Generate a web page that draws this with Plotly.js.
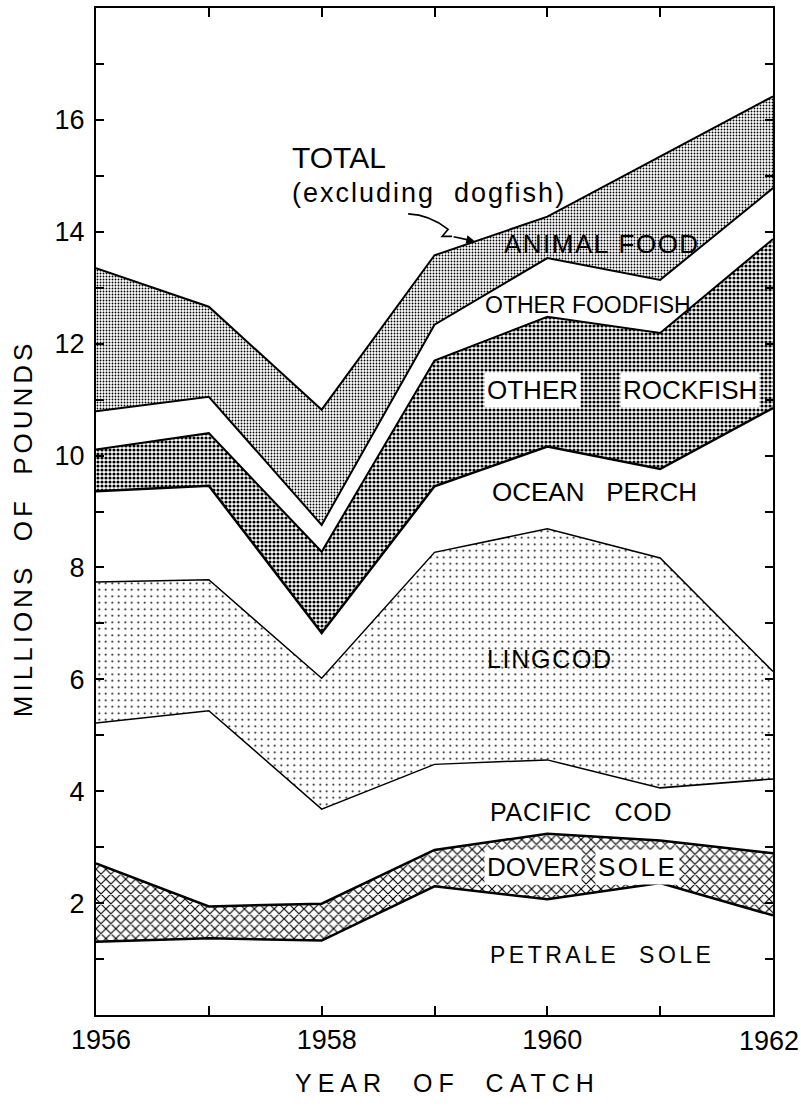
<!DOCTYPE html>
<html>
<head>
<meta charset="utf-8">
<script src="https://cdn.plot.ly/plotly-3.0.1.min.js"></script>
<style>
  html, body { margin: 0; padding: 0; background: #fff; }
</style>
</head>
<body>
<div id="chart" style="width:801px;height:1113px"></div>
<script>
// Landings by species group, millions of pounds, stacked from the bottom up
const years         = [1956, 1957, 1958, 1959, 1960, 1961, 1962];
const petraleSole   = [1.31, 1.37, 1.33, 2.30, 2.07, 2.36, 1.78];
const doverSole     = [1.40, 0.57, 0.66, 0.65, 1.17, 0.76, 1.11];
const pacificCod    = [2.51, 3.50, 1.69, 1.53, 1.32, 0.94, 1.33];
const lingcod       = [2.52, 2.34, 2.34, 3.79, 4.13, 4.11, 1.92];
const oceanPerch    = [1.62, 1.68, 0.81, 1.18, 1.47, 1.59, 4.71];
const otherRockfish = [0.75, 0.94, 1.45, 2.25, 2.32, 2.43, 3.02];
const otherFoodfish = [0.68, 0.65, 0.48, 0.64, 1.05, 0.95, 0.91];
const animalFood    = [2.56, 1.61, 2.06, 1.24, 0.74, 2.21, 1.64];

const NB = '\u00a0';
const xTickVals = [1956, 1957, 1958, 1959, 1960, 1961, 1962];
// the last year is written as a right-aligned note so it stays inside the page
const xTickText = ['1956', '', '1958', '', '1960', '', ''];
const lastYearText = '1962';
const yTickVals = [1, 2, 3, 4, 5, 6, 7, 8, 9, 10, 11, 12, 13, 14, 15, 16, 17];
const yTickText = ['', '2', '', '4', '', '6', '', '8', '', '10', '', '12', '', '14', '', '16', ''];

const FONT = 'Liberation Sans, Arial, Helvetica, sans-serif';

function band(name, values, lineWidth, pattern) {
  const t = {
    type: 'scatter',
    mode: 'lines',
    name: name,
    x: years,
    y: values,
    stackgroup: 'catch',
    line: { color: '#000', width: lineWidth, shape: 'linear' },
    fillcolor: '#ffffff',
    hoverinfo: 'skip'
  };
  if (pattern) {
    t.fillpattern = Object.assign({ fgcolor: '#000', bgcolor: '#ffffff', fillmode: 'replace' }, pattern);
  }
  return t;
}

const traces = [
  band('Petrale sole',   petraleSole,   2.5),
  band('Dover sole',     doverSole,     2.5, { shape: 'x', size: 7, solidity: 0.3 }),
  band('Pacific cod',    pacificCod,    1.5),
  band('Lingcod',        lingcod,       1.5, { shape: '.', size: 6.5, solidity: 0.07 }),
  band('Ocean perch',    oceanPerch,    2.5),
  band('Other rockfish', otherRockfish, 2,   { shape: '.', size: 4, solidity: 0.5 }),
  band('Other foodfish', otherFoodfish, 2),
  band('Animal food',    animalFood,    2,   { shape: '.', size: 3, solidity: 0.3 })
];

// Running total along the top of the stack, for the TOTAL pointer
const totals = years.map((_, i) =>
  petraleSole[i] + doverSole[i] + pacificCod[i] + lingcod[i] +
  oceanPerch[i] + otherRockfish[i] + otherFoodfish[i] + animalFood[i]);
const tipX = 1959.36;
const k = Math.floor(tipX - years[0]);
const frac = tipX - years[k];
const tipY = totals[k] + frac * (totals[k + 1] - totals[k]);

// pixel sizes of one axis unit, used to draw the wiggly pointer tail
const plotW = 801 - 96 - 28, plotH = 1113 - 8 - 98;
const pxX = plotW / 6, pxY = plotH / 18;
function off(dx, dy) { return (tipX + dx / pxX).toFixed(4) + ',' + (tipY - dy / pxY).toFixed(4); }
const tailPath = 'M' + off(-67, -27.5) + ' Q' + off(-45, -26.5) + ' ' + off(-27, -12) +
                 ' L' + off(-33, -5) + ' L' + off(-23, -5);

function spaced(text, sp) {
  return sp ? '<span style="letter-spacing:' + sp + 'px">' + text + '</span>' : text;
}
function label(text, x, y, size, sp, boxed) {
  return {
    xref: 'x', yref: 'y', x: x, y: y,
    xanchor: 'left', yanchor: 'middle',
    text: spaced(text, sp),
    showarrow: false,
    font: { family: FONT, size: size, color: '#000' },
    bgcolor: boxed ? '#ffffff' : 'rgba(0,0,0,0)',
    borderpad: boxed ? 2 : 0
  };
}

const annotations = [
  label('TOTAL', 1957.73, 15.32, 30, 0),
  label('(excluding' + NB + NB + 'dogfish)', 1957.73, 14.69, 27, 2),
  label('ANIMAL' + NB + 'FOOD', 1959.61, 13.78, 26, 1.5),
  label('OTHER' + NB + 'FOODFISH', 1959.44, 12.69, 23, 0),
  label('OTHER', 1959.44, 11.17, 26, 0, true),
  label('ROCKFISH', 1960.64, 11.17, 26, 0, true),
  label('OCEAN' + NB + NB + NB + 'PERCH', 1959.50, 9.35, 26, 0),
  label('LINGCOD', 1959.46, 6.36, 25, 1.7),
  label('PACIFIC' + NB + NB + NB + 'COD', 1959.48, 3.63, 25, 0.7),
  label('DOVER', 1959.44, 2.65, 26, 0, true),
  label('SOLE', 1960.42, 2.65, 26, 2.5, true),
  label('PETRALE' + NB + NB + 'SOLE', 1959.48, 1.07, 23, 3.5),
  {
    xref: 'x', yref: 'y', x: tipX, y: tipY,
    axref: 'pixel', ayref: 'pixel', ax: -23, ay: -5,
    text: '', showarrow: true, arrowhead: 2, arrowsize: 1.1,
    arrowwidth: 1.6, arrowcolor: '#000', standoff: 0
  },
  {
    xref: 'x', yref: 'paper', x: xTickVals[xTickVals.length - 1], y: -0.026,
    xanchor: 'right', yanchor: 'middle', xshift: 27,
    text: lastYearText, showarrow: false, borderpad: 0,
    font: { family: FONT, size: 27, color: '#000' }
  }
];

const layout = {
  width: 801,
  height: 1113,
  margin: { l: 96, r: 28, t: 8, b: 98 },
  paper_bgcolor: '#ffffff',
  plot_bgcolor: '#ffffff',
  showlegend: false,
  font: { family: FONT, color: '#000' },
  xaxis: {
    range: [1956, 1962],
    tickvals: xTickVals,
    ticktext: xTickText,
    ticks: 'inside',
    ticklen: 9,
    tickwidth: 2,
    tickcolor: '#000',
    showline: true,
    linecolor: '#000',
    linewidth: 2,
    mirror: 'ticks',
    showgrid: false,
    zeroline: false,
    tickfont: { family: FONT, size: 27, color: '#000' },
    ticklabelstandoff: 0,
    ticklabelshift: 5,
    title: {
      text: spaced(NB + NB + 'YEAR' + NB + NB + 'OF' + NB + NB + 'CATCH', 6),
      font: { family: FONT, size: 25, color: '#000' },
      standoff: 20
    },
    automargin: false,
    fixedrange: true
  },
  yaxis: {
    range: [0, 18],
    tickvals: yTickVals,
    ticktext: yTickText,
    ticks: 'inside',
    ticklen: 8,
    tickwidth: 2,
    tickcolor: '#000',
    showline: true,
    linecolor: '#000',
    linewidth: 2,
    mirror: 'ticks',
    showgrid: false,
    zeroline: false,
    tickfont: { family: FONT, size: 27, color: '#000' },
    ticklabelstandoff: 4,
    title: {
      text: spaced('MILLIONS' + NB + NB + 'OF' + NB + NB + 'POUNDS' + NB + NB + NB, 4),
      font: { family: FONT, size: 26, color: '#000' },
      standoff: 14
    },
    automargin: false,
    fixedrange: true
  },
  shapes: [
    {
      type: 'path', xref: 'x', yref: 'y', path: tailPath,
      line: { color: '#000', width: 1.6 }, fillcolor: 'rgba(0,0,0,0)'
    }
  ],
  annotations: annotations
};

Plotly.newPlot('chart', traces, layout, { staticPlot: true, displayModeBar: false });
</script>
</body>
</html>
